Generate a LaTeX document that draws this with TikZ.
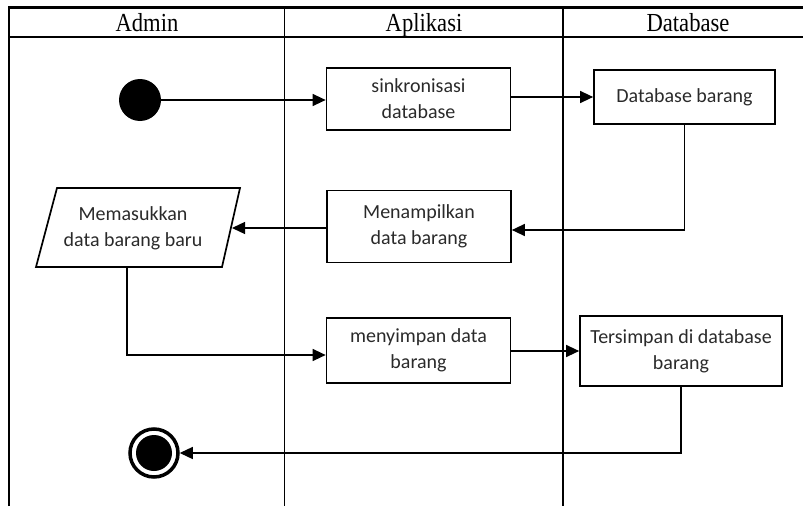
\documentclass[tikz,border=0pt]{standalone}
\usepackage{fontspec}
\setmainfont{Liberation Serif}
\newfontfamily\boxfont{Carlito}
\usetikzlibrary{arrows.meta}
\definecolor{txt}{HTML}{2A2A2A}
\tikzset{
  lane/.style={line width=2.4pt,black},
  thinlane/.style={line width=1pt,black},
  boxtext/.style={font=\boxfont\fontsize{20}{26}\selectfont,text=txt,align=center},
  actbox/.style={draw,line width=1.7pt,minimum width=184pt,minimum height=62pt,boxtext,inner sep=0pt},
  flow/.style={line width=1.3pt,-{Triangle[length=13pt,width=12pt]}},
  hdr/.style={font=\fontsize{26}{28}\selectfont,xscale=0.87,anchor=base,inner sep=0pt}
}
\begin{document}
\begin{tikzpicture}[x=1pt,y=-1pt]
\useasboundingbox (0,0) rectangle (803,506);
% swimlane frame
\draw[lane] (9,506) -- (9,7.5) -- (803,7.5);
\draw[line width=1.6pt] (9,37) -- (803,37);
\draw[thinlane] (284,7) -- (284,506);
\draw[lane] (563,7) -- (563,506);
\node[hdr] (hA) at (147,31) {Admin};
\node[hdr] (hB) at (424,31) {Aplikasi};
\node[hdr] (hC) at (688,31) {Database};
% nodes
\node[circle,fill=black,minimum size=42pt,inner sep=0pt] (start) at (140,100) {};
\node[actbox,minimum height=62pt] (sync) at (418.5,99) {sinkronisasi\\database};
\node[actbox,minimum width=181pt,minimum height=54pt] (dbb) at (684.5,97) {Database barang};
\node[actbox,minimum height=72pt] (tampil) at (419,226.5) {Menampilkan\\data barang};
\draw[line width=1.7pt] (57,188) coordinate (p1) -- (240,188) coordinate (p2) -- (222,267) coordinate (p3) -- (36,267) coordinate (p4) -- cycle;
\node[boxtext] (input) at (133,228) {Memasukkan\\data barang baru};
\coordinate (inE) at (232,228);
\node[actbox,minimum height=65pt] (simpan) at (418.5,350.5) {menyimpan data\\barang};
\node[actbox,minimum width=202pt,minimum height=70pt] (tersimpan) at (681,351) {Tersimpan di database\\barang};
\node[circle,draw,line width=3.5pt,minimum size=48pt,inner sep=0pt] (endo) at (154,453) {};
\node[circle,fill=black,minimum size=36pt,inner sep=0pt] (endi) at (154,453) {};
% connectors
\draw[flow] (start.east) -- (sync.west |- start.east);
\draw[flow] (sync.east |- dbb.west) -- (dbb.west);
\draw[flow] (dbb.south) |- (tampil.east |- 0,230);
\draw[flow] (tampil.west |- inE) -- (inE);
\coordinate (inb) at (127,267);
\draw[flow] (inb) |- (simpan.west |- 0,355);
\draw[flow] (simpan.east |- tersimpan.west) -- (tersimpan.west);
\draw[flow] (tersimpan.south) |- (endo.east);
\end{tikzpicture}
\end{document}
